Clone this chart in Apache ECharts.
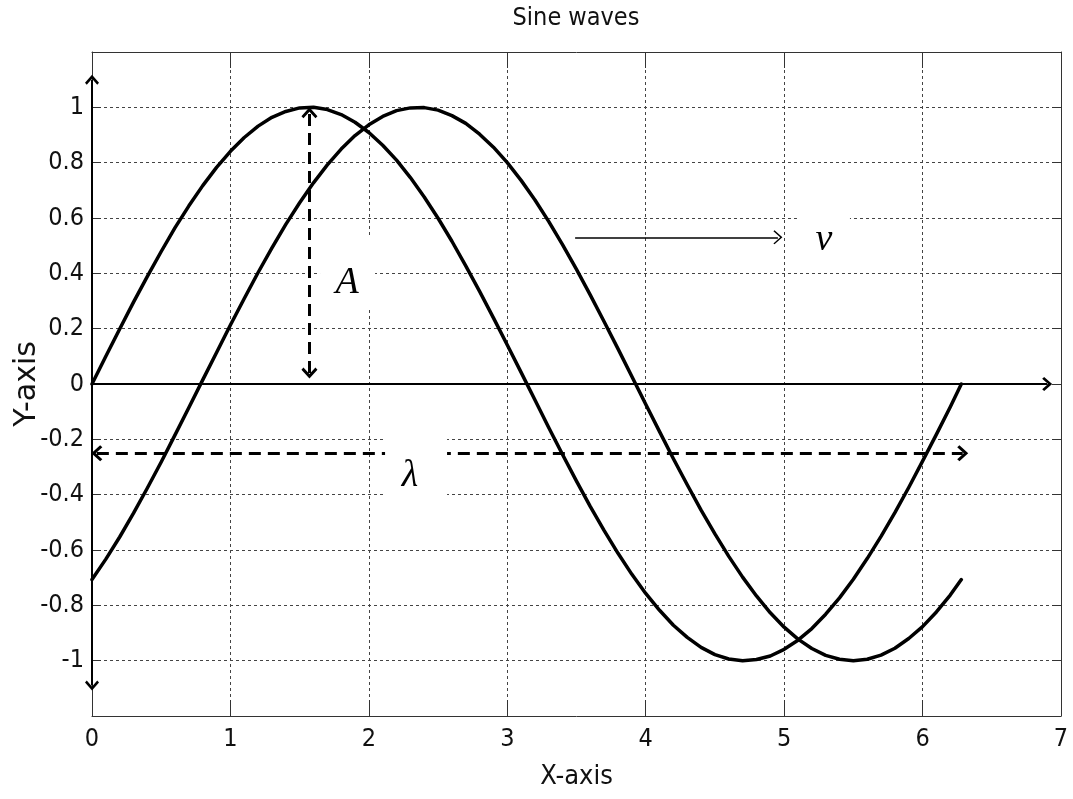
<!DOCTYPE html>
<html>
<head>
<meta charset="utf-8">
<title>Sine waves</title>
<script src="https://cdn.jsdelivr.net/npm/echarts@6/dist/echarts.min.js"></script>
<style>
  html, body { margin: 0; padding: 0; background: #fff; }
  #chart { width: 1073px; height: 799px; }
</style>
</head>
<body>
<div id="chart"></div>
<script>
// Sample positions along the x axis (radians)
const xValues = [
  0, 0.1, 0.2, 0.3, 0.4, 0.5, 0.6, 0.7, 0.8, 0.9,
  1.0, 1.1, 1.2, 1.3, 1.4, 1.5, 1.6, 1.7, 1.8, 1.9,
  2.0, 2.1, 2.2, 2.3, 2.4, 2.5, 2.6, 2.7, 2.8, 2.9,
  3.0, 3.1, 3.2, 3.3, 3.4, 3.5, 3.6, 3.7, 3.8, 3.9,
  4.0, 4.1, 4.2, 4.3, 4.4, 4.5, 4.6, 4.7, 4.8, 4.9,
  5.0, 5.1, 5.2, 5.3, 5.4, 5.5, 5.6, 5.7, 5.8, 5.9,
  6.0, 6.1, 6.2, 6.28
];

// First wave: starts at zero, peaks near x = 1.57
const waveA = [
  0, 0.100, 0.199, 0.296, 0.389, 0.479, 0.565, 0.644, 0.717, 0.783,
  0.841, 0.891, 0.932, 0.964, 0.985, 0.998, 1.000, 0.992, 0.974, 0.946,
  0.909, 0.863, 0.809, 0.746, 0.676, 0.599, 0.516, 0.427, 0.335, 0.239,
  0.141, 0.042, -0.058, -0.158, -0.256, -0.351, -0.443, -0.530, -0.612, -0.688,
  -0.757, -0.818, -0.872, -0.916, -0.952, -0.978, -0.994, -1.000, -0.996, -0.983,
  -0.959, -0.926, -0.884, -0.832, -0.773, -0.706, -0.631, -0.551, -0.465, -0.374,
  -0.279, -0.182, -0.083, 0
];

// Second wave: shifted to the right, starts near -0.7
const waveB = [
  -0.707, -0.633, -0.553, -0.467, -0.376, -0.282, -0.184, -0.085, 0.015, 0.114,
  0.213, 0.309, 0.403, 0.492, 0.577, 0.655, 0.727, 0.792, 0.849, 0.898,
  0.937, 0.967, 0.988, 0.998, 0.999, 0.990, 0.970, 0.942, 0.903, 0.856,
  0.800, 0.736, 0.665, 0.587, 0.503, 0.414, 0.321, 0.225, 0.127, 0.027,
  -0.073, -0.172, -0.270, -0.364, -0.456, -0.542, -0.623, -0.698, -0.766, -0.827,
  -0.879, -0.922, -0.956, -0.981, -0.995, -1.000, -0.995, -0.980, -0.955, -0.920,
  -0.877, -0.824, -0.763, -0.707
];

// Axis ranges and ticks
const xRange = [0, 7];
const xStep = 1;
const yRange = [-1.2, 1.2];
const yStep = 0.2;
const yLabelLimit = 1; // labels only from -1 to 1

// Annotation arrows, in data units: [start, end]
const yAxisArrow = [[0, -1.09], [0, 1.10]];
const xAxisArrow = [[0, 0], [6.90, 0]];
const amplitudeArrow = [[1.5708, 0.04], [1.5708, 0.98]];
const wavelengthArrow = [[0.035, -0.25], [6.29, -0.25]];
const velocityArrow = [[3.49, 0.53], [4.955, 0.53]];

// Annotation symbols and where each one sits (data units)
const annotationNames = ['A', 'λ', 'v'];
const annotationAt = [[1.842, 0.365], [2.297, -0.333], [5.288, 0.522]];
// White boxes behind the annotations: centre and size in px
const annotationBoxAt = [[1.846, 0.403], [2.341, -0.298], [5.284, 0.544]];
const annotationBoxSize = [[55, 71], [62, 77], [53, 57]];

const NARROW = "'DejaVu Sans Condensed', 'Liberation Sans Narrow', sans-serif";
const WIDE = "'DejaVu Sans', sans-serif";
const MATH = "'Liberation Serif', 'DejaVu Serif', serif";

const chevron = 'path://M10,0 L20,10 L17.5,12.5 L10,5 L2.5,12.5 L0,10 Z';
const thinChevron = 'path://M10,0 L20,10 L18.6,11.4 L10,2.8 L1.4,11.4 L0,10 Z';

function pairs(xs, ys) {
  return xs.map((x, i) => [x, ys[i]]);
}

function arrowSeries(name, seg, style, startSym, endSym, size) {
  return {
    name: name,
    type: 'line',
    data: [],
    silent: true,
    z: 4,
    markLine: {
      silent: true,
      animation: false,
      z: 4,
      symbol: [startSym, endSym],
      symbolSize: size,
      label: { show: false },
      emphasis: { disabled: true },
      itemStyle: { color: '#000' },
      lineStyle: Object.assign({ color: '#000' }, style),
      data: [[{ coord: seg[0] }, { coord: seg[1] }]]
    }
  };
}

const chart = echarts.init(document.getElementById('chart'), null, { renderer: 'canvas' });

const axisLineStyle = { color: '#333', width: 1 };
const gridLineStyle = { type: [3, 3], color: '#444', width: 1 };

const option = {
  animation: false,
  backgroundColor: '#fff',
  title: {
    text: 'Sine waves',
    left: 571,
    top: 1,
    textAlign: 'center',
    textStyle: { fontFamily: NARROW, fontSize: 25, fontWeight: 'normal', color: '#111' }
  },
  grid: { left: 92, right: 12, top: 52, bottom: 83, containLabel: false, outerBoundsMode: 'none' },
  xAxis: [
    {
      type: 'value', min: xRange[0], max: xRange[1], interval: xStep, position: 'bottom',
      axisLine: { show: true, onZero: false, lineStyle: axisLineStyle },
      axisTick: { show: true, inside: true, length: 16, lineStyle: axisLineStyle },
      axisLabel: { margin: 11, fontFamily: NARROW, fontSize: 25, color: '#111' },
      splitLine: { show: true, lineStyle: gridLineStyle },
      name: 'X-axis', nameLocation: 'middle', nameGap: 47,
      nameTextStyle: { fontFamily: NARROW, fontSize: 27, color: '#111' }
    },
    {
      type: 'value', min: xRange[0], max: xRange[1], interval: xStep, position: 'top',
      axisLine: { show: true, onZero: false, lineStyle: axisLineStyle },
      axisTick: { show: true, inside: true, length: 16, lineStyle: axisLineStyle },
      axisLabel: { show: false },
      splitLine: { show: false }
    }
  ],
  yAxis: [
    {
      type: 'value', min: yRange[0], max: yRange[1], interval: yStep, position: 'left',
      axisLine: { show: true, onZero: false, lineStyle: axisLineStyle },
      axisTick: { show: true, inside: true, length: 9, lineStyle: axisLineStyle },
      axisLabel: {
        margin: 8, fontFamily: NARROW, fontSize: 25, color: '#111',
        formatter: v => (Math.abs(v) > yLabelLimit + 1e-6 ? '' : String(+v.toFixed(1)))
      },
      splitLine: { show: true, lineStyle: gridLineStyle },
      name: 'Y-axis', nameLocation: 'middle', nameGap: 50, nameMoveOverlap: false,
      nameTextStyle: { fontFamily: WIDE, fontSize: 30, color: '#111' }
    },
    {
      type: 'value', min: yRange[0], max: yRange[1], interval: yStep, position: 'right',
      axisLine: { show: true, onZero: false, lineStyle: axisLineStyle },
      axisTick: { show: true, inside: true, length: 9, lineStyle: axisLineStyle },
      axisLabel: { show: false },
      splitLine: { show: false }
    }
  ],
  series: [
    {
      name: 'wave A', type: 'line', data: pairs(xValues, waveA),
      showSymbol: false, symbol: 'none', smooth: false, silent: true, z: 5,
      lineStyle: { color: '#000', width: 3.5, join: 'round', cap: 'round' }
    },
    {
      name: 'wave B', type: 'line', data: pairs(xValues, waveB),
      showSymbol: false, symbol: 'none', smooth: false, silent: true, z: 5,
      lineStyle: { color: '#000', width: 3.5, join: 'round', cap: 'round' }
    },
    arrowSeries('y axis arrow', yAxisArrow, { width: 2, type: 'solid' }, chevron, chevron, [14, 10]),
    arrowSeries('x axis arrow', xAxisArrow, { width: 2, type: 'solid' }, 'none', chevron, [14, 10]),
    arrowSeries('amplitude', amplitudeArrow, { width: 3, type: [12, 7] }, chevron, chevron, [16, 11]),
    arrowSeries('wavelength', wavelengthArrow, { width: 3, type: [12, 7] }, chevron, chevron, [16, 11]),
    arrowSeries('velocity', velocityArrow, { width: 1.5, type: 'solid' }, 'none', thinChevron, [14, 9]),
    {
      // white boxes that clear the grid behind each annotation
      name: 'annotation boxes',
      type: 'scatter',
      silent: true,
      z: 10,
      symbolSize: 1,
      itemStyle: { color: '#fff', opacity: 1 },
      data: annotationBoxAt.map((p, i) => ({
        value: p,
        label: {
          show: true,
          position: 'inside',
          formatter: ' ',
          width: annotationBoxSize[i][0],
          height: annotationBoxSize[i][1],
          padding: 0,
          backgroundColor: '#fff'
        }
      }))
    },
    {
      name: 'annotations',
      type: 'scatter',
      silent: true,
      z: 11,
      symbolSize: 1,
      itemStyle: { color: '#fff', opacity: 1 },
      data: annotationNames.map((n, i) => ({
        name: n,
        value: annotationAt[i],
        label: {
          show: true,
          position: 'inside',
          formatter: '{b}',
          fontFamily: MATH,
          fontStyle: 'italic',
          fontSize: 38,
          color: '#000'
        }
      }))
    }
  ]
};

chart.setOption(option);
</script>
</body>
</html>
